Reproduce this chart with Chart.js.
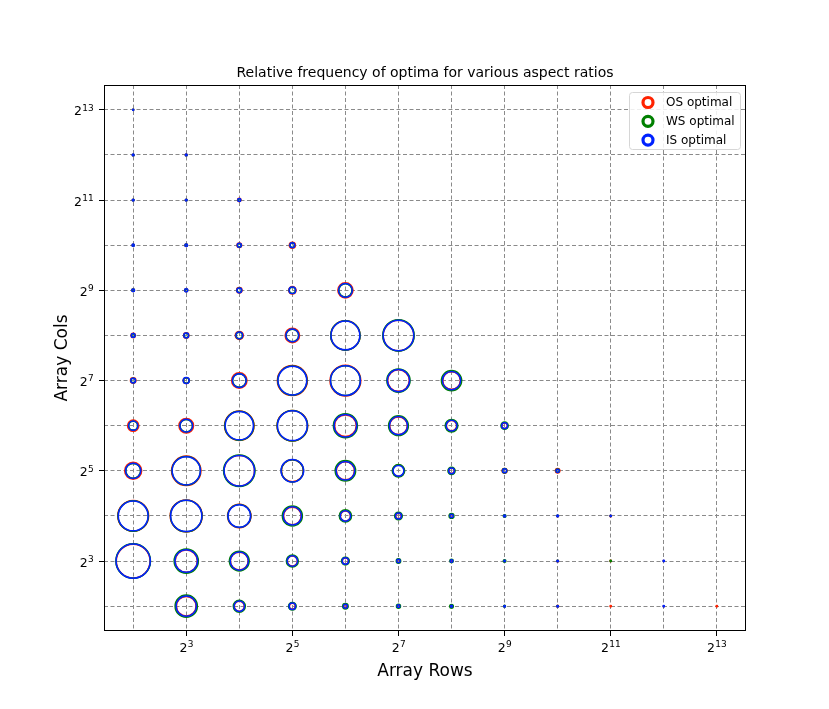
<!DOCTYPE html>
<html>
<head>
<meta charset="utf-8">
<script src="https://cdn.jsdelivr.net/npm/chart.js@4/dist/chart.umd.min.js"></script>
<style>
  html, body { margin: 0; padding: 0; background: #fff; }
  #c { display: block; }
</style>
</head>
<body>
<canvas id="c" width="829" height="709"></canvas>
<script>
// aspect ratios: rows (x) and cols (y) of the array
const arrayRows = [
  4,
  4, 8,
  4, 8, 16,
  4, 8, 16, 32,
  4, 8, 16, 32, 64,
  4, 8, 16, 32, 64, 128,
  4, 8, 16, 32, 64, 128, 256,
  4, 8, 16, 32, 64, 128, 256, 512,
  4, 8, 16, 32, 64, 128, 256, 512, 1024,
  4, 8, 16, 32, 64, 128, 256, 512, 1024, 2048,
  4, 8, 16, 32, 64, 128, 256, 512, 1024, 2048, 4096,
  8, 16, 32, 64, 128, 256, 512, 1024, 2048, 4096, 8192
];
const arrayCols = [
  8192,
  4096, 4096,
  2048, 2048, 2048,
  1024, 1024, 1024, 1024,
  512, 512, 512, 512, 512,
  256, 256, 256, 256, 256, 256,
  128, 128, 128, 128, 128, 128, 128,
  64, 64, 64, 64, 64, 64, 64, 64,
  32, 32, 32, 32, 32, 32, 32, 32, 32,
  16, 16, 16, 16, 16, 16, 16, 16, 16, 16,
  8, 8, 8, 8, 8, 8, 8, 8, 8, 8, 8,
  4, 4, 4, 4, 4, 4, 4, 4, 4, 4, 4
];

// marker sizes (relative frequency of being optimal), same order as above
const osSize = [
  0.5,
  0.8, 0.9,
  0.8, 0.8, 1.7,
  1.0, 1.2, 2.3, 3.0,
  1.3, 1.5, 2.7, 3.7, 7.6,
  2.1, 2.6, 4.0, 7.2, 14.6, 15.3,
  2.7, 2.9, 7.7, 15.0, 15.4, 10.8, 8.8,
  5.6, 7.3, 14.7, 15.3, 10.8, 8.8, 5.1, 2.8,
  8.5, 14.7, 15.2, 11.0, 9.0, 5.7, 2.7, 2.4, 2.2,
  15.4, 16.0, 11.7, 8.8, 5.0, 2.8, 1.6, 0.9, 0.8, 0.8,
  16.9, 11.1, 8.9, 5.0, 3.1, 1.6, 1.1, 0.8, 0.9, 0.7, 0.5,
  9.8, 5.0, 3.0, 1.8, 1.2, 0.8, 0.7, 0.9, 0.7, 0.5, 0.7
];
const wsSize = [
  0.5,
  0.8, 0.8,
  0.8, 0.8, 1.3,
  0.9, 1.1, 1.8, 2.2,
  1.2, 1.4, 2.2, 3.1, 6.6,
  1.7, 2.2, 3.2, 6.2, 14.7, 15.7,
  2.2, 2.8, 6.7, 14.6, 14.9, 11.6, 10.1,
  4.4, 6.2, 14.5, 15.2, 12.0, 9.9, 6.3, 3.6,
  7.4, 14.2, 15.7, 11.1, 10.2, 6.2, 3.6, 2.2, 1.7,
  15.2, 15.8, 11.5, 10.0, 6.1, 3.8, 2.4, 1.3, 0.7, 0.5,
  17.3, 12.1, 9.9, 6.0, 3.9, 2.2, 1.7, 1.3, 0.7, 0.7, 0.4,
  11.1, 6.0, 3.8, 2.7, 2.0, 1.8, 0.9, 0.6, 0, 0.3, 0
];
const isSize = [
  0.6,
  0.9, 0.9,
  0.9, 0.9, 1.5,
  1.1, 1.3, 2.0, 2.4,
  1.4, 1.6, 2.4, 3.3, 6.9,
  1.9, 2.4, 3.4, 6.4, 14.4, 15.3,
  2.4, 3.0, 6.9, 14.4, 14.9, 11.1, 9.1,
  4.6, 6.4, 14.1, 14.9, 11.3, 9.1, 5.4, 2.9,
  7.6, 14.1, 15.2, 11.3, 9.3, 5.4, 2.9, 2.0, 1.6,
  14.9, 15.6, 11.3, 9.1, 5.2, 3.0, 1.7, 1.0, 0.9, 0.6,
  17.1, 11.3, 9.1, 5.2, 3.2, 1.7, 1.3, 0.7, 0.8, 0, 0.7,
  10.1, 5.2, 3.2, 2.0, 1.4, 1.0, 0.8, 0.8, 0, 0.7, 0
];

const seriesNames = ['OS optimal', 'WS optimal', 'IS optimal'];
const seriesColors = ['#ff2200', '#008000', '#0022ff'];

// ticks at every power of two, labelled 2^n only on odd powers
const tickValues = [4, 8, 16, 32, 64, 128, 256, 512, 1024, 2048, 4096, 8192];
const tickExponents = ['', '3', '', '5', '', '7', '', '9', '', '11', '', '13'];

const FONT = "'DejaVu Sans', sans-serif";

function points(sizes) {
  return arrayRows.map((x, i) => ({ x: x, y: arrayCols[i], r: sizes[i] }));
}

const sets = [osSize, wsSize, isSize].map((s, k) => ({
  label: seriesNames[k],
  data: points(s),
  backgroundColor: 'rgba(0,0,0,0)',
  borderColor: seriesColors[k],
  borderWidth: 1.5,
  order: 3 - k
}));

function logAxis(title) {
  return {
    type: 'logarithmic',
    min: Math.pow(2, 1.45),
    max: Math.pow(2, 13.55),
    afterBuildTicks: s => { s.ticks = tickValues.map(v => ({ value: v })); },
    ticks: { display: false, autoSkip: false },
    grid: {
      color: '#8a8a8a',
      lineWidth: 1,
      tickLength: 5,
      tickColor: c => tickExponents[c.index] ? '#000' : 'rgba(0,0,0,0)',
      tickBorderDash: []
    },
    border: { display: false, dash: [4, 2.5] },
    title: title
  };
}

// power-of-two labels with a raised exponent, placed on the scale's ticks
const powerLabels = {
  id: 'powerLabels',
  afterDraw(chart) {
    const ctx = chart.ctx;
    const base = '12.5px ' + FONT, sup = '9px ' + FONT;
    ctx.save();
    ctx.fillStyle = '#000';
    ctx.textBaseline = 'alphabetic';
    ctx.textAlign = 'left';
    tickValues.forEach((v, i) => {
      const e = tickExponents[i];
      if (!e) return;
      ctx.font = base;
      const w1 = ctx.measureText('2').width;
      ctx.font = sup;
      const w2 = ctx.measureText(e).width;
      // x axis
      const px = chart.scales.x.getPixelForValue(v);
      const x0 = px - (w1 + w2) / 2;
      ctx.font = base;
      ctx.fillText('2', x0, 652);
      ctx.font = sup;
      ctx.fillText(e, x0 + w1 + 0.3, 647);
      // y axis
      const py = chart.scales.y.getPixelForValue(v);
      const y0 = 93.5 - (w1 + w2);
      ctx.font = base;
      ctx.fillText('2', y0, py + 5.5);
      ctx.font = sup;
      ctx.fillText(e, y0 + w1 + 0.3, py + 0.8);
    });
    ctx.restore();
  }
};

const frame = {
  id: 'frame',
  afterDatasetsDraw(chart) {
    const { ctx, chartArea: a } = chart;
    ctx.save();
    ctx.strokeStyle = '#000';
    ctx.lineWidth = 1;
    ctx.strokeRect(Math.round(a.left) + 0.5, Math.round(a.top) + 0.5,
      Math.round(a.right - a.left) - 1, Math.round(a.bottom - a.top) - 1);
    ctx.restore();
  }
};

const legendBox = {
  id: 'legendBox',
  afterDraw(chart) {
    const ctx = chart.ctx;
    const x = 629.5, y = 92.5, w = 111, h = 57, rad = 3;
    ctx.save();
    ctx.beginPath();
    ctx.moveTo(x + rad, y);
    ctx.arcTo(x + w, y, x + w, y + h, rad);
    ctx.arcTo(x + w, y + h, x, y + h, rad);
    ctx.arcTo(x, y + h, x, y, rad);
    ctx.arcTo(x, y, x + w, y, rad);
    ctx.closePath();
    ctx.fillStyle = 'rgba(255,255,255,0.85)';
    ctx.fill();
    ctx.strokeStyle = '#d6d6d6';
    ctx.lineWidth = 1;
    ctx.stroke();
    ctx.font = '12px ' + FONT;
    ctx.textBaseline = 'middle';
    ctx.fillStyle = '#000';
    chart.data.datasets.forEach((d, k) => {
      const cy = 102.5 + k * 18.8;
      ctx.beginPath();
      ctx.arc(648, cy, 5, 0, Math.PI * 2);
      ctx.strokeStyle = d.borderColor;
      ctx.lineWidth = 3.2;
      ctx.stroke();
      ctx.fillText(d.label, 666, cy + 0.5);
    });
    ctx.restore();
  }
};

new Chart(document.getElementById('c'), {
  type: 'bubble',
  data: { datasets: sets },
  options: {
    responsive: false,
    animation: false,
    events: [],
    layout: { padding: { left: 0, right: 83, top: 0, bottom: 0 } },
    scales: {
      x: Object.assign(logAxis({
        display: true, text: 'Array Rows', color: '#000',
        font: { family: FONT, size: 17 }, padding: { top: 0, bottom: 27 }
      }), { afterFit: s => { s.height = 78; } }),
      y: Object.assign(logAxis({
        display: true, text: 'Array Cols', color: '#000',
        font: { family: FONT, size: 17 }, padding: { top: 52, bottom: 0 }
      }), { afterFit: s => { s.width = 104; } })
    },
    plugins: {
      legend: { display: false },
      tooltip: { enabled: false },
      title: {
        display: true,
        fullSize: false,
        text: 'Relative frequency of optima for various aspect ratios',
        color: '#000',
        font: { family: FONT, size: 14, weight: 'normal' },
        padding: { top: 64.6, bottom: 3.6 }
      }
    }
  },
  plugins: [frame, legendBox, powerLabels]
});
</script>
</body>
</html>
